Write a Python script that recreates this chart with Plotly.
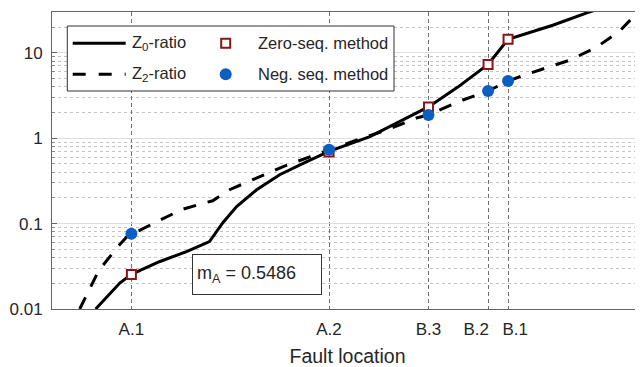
import plotly.graph_objects as go

# ---------------- data ----------------
loc_names = ["A.1", "A.2", "B.3", "B.2\u00a0\u00a0\u00a0\u00a0\u00a0", "\u00a0\u00a0\u00a0B.1"]
loc_x = [13.46, 46.97, 63.83, 73.93, 77.32]

z0_x = [7.4, 9.3, 11.5, 13.46, 18.3, 22.8, 26.7, 29.0, 31.3, 34.7, 38.6, 43.2, 46.97,
        53.9, 63.83, 68.8, 73.93, 77.32, 80.5, 84.9, 90.8, 93.0]
z0_y = [0.01, 0.014, 0.0201, 0.0254, 0.036, 0.047, 0.0617, 0.103, 0.158, 0.249, 0.373,
        0.53, 0.70, 1.04, 2.32, 3.96, 7.3, 14.4, 16.8, 21.0, 29.5, 33.0]

z2_x = [4.7, 7.9, 11.3, 12.7, 17.75, 22.0, 26.2, 27.25, 30.1, 34.7, 39.1, 43.7, 46.97,
        52.2, 56.8, 61.8, 63.83, 69.65, 73.93, 77.32, 80.5, 87.8, 92.4, 96.3, 99.15, 100.5]
z2_y = [0.01, 0.028, 0.055, 0.070, 0.105, 0.146, 0.177, 0.185, 0.249, 0.344, 0.462,
        0.605, 0.73, 0.98, 1.25, 1.72, 1.87, 2.8, 3.56, 4.67, 5.6, 8.2, 11.7, 18.1, 29.0, 38.0]

zero_seq = [0.0254, 0.69, 2.32, 7.3, 14.4]
neg_seq = [0.076, 0.73, 1.87, 3.56, 4.67]

y_tickvals = [0.01, 0.1, 1, 10]
y_ticktext = ["0.01", "0.1", "1", "10"]

RED = "#8B1414"
BLUE = "#0B5FC0"
FONT = "Liberation Sans, Arial, sans-serif"

# page body has an 8px margin; figure is sized so it fits in the 643x367 window
OFF = 8
W, H = 635, 359
ML, MR, MT, MB = 44, 0, 4, 58
PW, PH = W - ML - MR, H - MT - MB


def px(xw):
    return (xw - OFF - ML) / PW


def py(yw):
    return (H - MB - (yw - OFF)) / PH


fig = go.Figure()
fig.add_trace(go.Scatter(x=z0_x, y=z0_y, mode="lines", name="Z<sub>0</sub>-ratio",
                         line=dict(color="black", width=3), showlegend=False))
fig.add_trace(go.Scatter(x=z2_x, y=z2_y, mode="lines", name="Z<sub>2</sub>-ratio",
                         line=dict(color="black", width=3, dash="13px,12px"), showlegend=False))
fig.add_trace(go.Scatter(x=loc_x, y=zero_seq, mode="markers", name="Zero-seq. method",
                         marker=dict(symbol="square", size=9, color="white",
                                     line=dict(color=RED, width=2)), showlegend=False))
fig.add_trace(go.Scatter(x=loc_x, y=neg_seq, mode="markers", name="Neg. seq. method",
                         marker=dict(symbol="circle", size=12, color=BLUE,
                                     line=dict(width=0)), showlegend=False))

shapes = []
annotations = []
# legend frame
shapes.append(dict(type="rect", xref="paper", yref="paper",
                   x0=px(67.3), x1=px(394), y0=py(91), y1=py(26),
                   line=dict(color="#333333", width=1), fillcolor="white", layer="above"))
row1, row2 = 43.3, 74.3
shapes.append(dict(type="line", xref="paper", yref="paper", x0=px(72.7), x1=px(125.7),
                   y0=py(row1), y1=py(row1), line=dict(color="black", width=3), layer="above"))
shapes.append(dict(type="line", xref="paper", yref="paper", x0=px(72.7), x1=px(125.7),
                   y0=py(row2), y1=py(row2), line=dict(color="black", width=3, dash="13px,13px"),
                   layer="above"))
shapes.append(dict(type="rect", xref="paper", yref="paper", x0=px(225.7 - 4.5), x1=px(225.7 + 4.5),
                   y0=py(row1 + 4.5), y1=py(row1 - 4.5), line=dict(color=RED, width=2),
                   fillcolor="white", layer="above"))
shapes.append(dict(type="circle", xref="paper", yref="paper", x0=px(225.7 - 6), x1=px(225.7 + 6),
                   y0=py(row2 + 6), y1=py(row2 - 6), line=dict(width=0),
                   fillcolor=BLUE, layer="above"))
leg_font = dict(family=FONT, size=16.5, color="#262626")
for txt, xx, yy in [("Z<sub>0</sub>-ratio", 131, row1), ("Z<sub>2</sub>-ratio", 131, row2),
                    ("Zero-seq. method", 257, row1), ("Neg. seq. method", 257, row2)]:
    annotations.append(dict(text=txt, xref="paper", yref="paper", x=px(xx), y=py(yy),
                            xanchor="left", yanchor="middle", showarrow=False, font=leg_font,
                            borderpad=0))

annotations.append(dict(text="m<sub>A</sub> = 0.5486", xref="paper", yref="paper",
                        x=px(256.7), y=py(274.5), xanchor="center", yanchor="middle",
                        showarrow=False, font=dict(family=FONT, size=18, color="#262626"),
                        bordercolor="#333333", borderwidth=1, borderpad=4, bgcolor="white",
                        width=120, height=31, align="left"))

fig.update_layout(
    width=W, height=H, margin=dict(l=ML, r=MR, t=MT, b=MB, autoexpand=False),
    paper_bgcolor="white", plot_bgcolor="white",
    font=dict(family=FONT, size=17, color="#262626"),
    shapes=shapes, annotations=annotations,
    xaxis=dict(range=[0, 100.2], tickvals=loc_x, ticktext=loc_names, tickangle=0,
               automargin=False, ticklabelstandoff=5,
               showgrid=True, gridcolor="#6e6e6e", gridwidth=1, griddash="4px,3px",
               showline=True, linecolor="#666666", linewidth=1, mirror=True,
               ticks="", zeroline=False,
               title=dict(text="Fault location", font=dict(size=19.5), standoff=10),
               tickfont=dict(size=17)),
    yaxis=dict(type="log", range=[-2, 1.477], tickvals=y_tickvals, ticktext=y_ticktext,
               automargin=False,
               showgrid=True, gridcolor="#dedede", gridwidth=1,
               showline=True, linecolor="#666666", linewidth=1,
               ticks="inside", ticklen=5, tickcolor="#666666", ticklabelstandoff=5,
               minor=dict(showgrid=True, gridcolor="#c4c4c4", griddash="dot",
                          ticks="inside", ticklen=3, tickcolor="#888888", dtick="D1"),
               zeroline=False, tickfont=dict(size=17)),
)

fig.write_html("out.html")
